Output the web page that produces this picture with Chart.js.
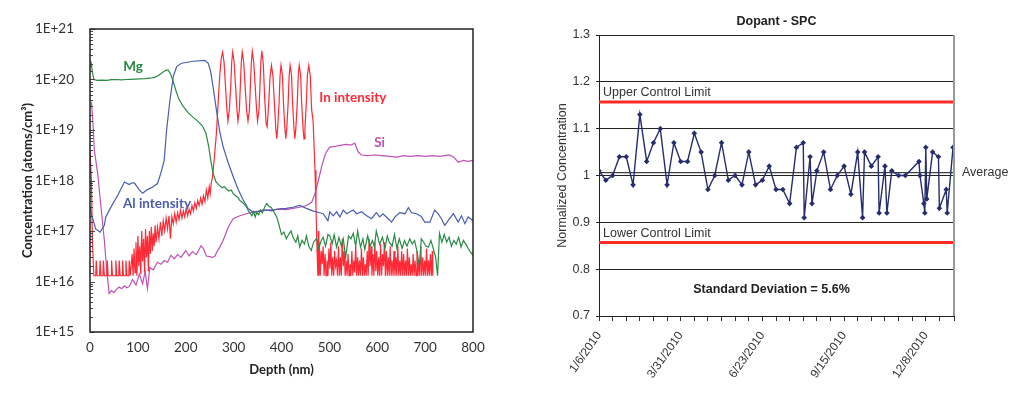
<!DOCTYPE html>
<html>
<head>
<meta charset="utf-8">
<script src="https://cdn.jsdelivr.net/npm/chart.js@4.4.1/dist/chart.umd.min.js"></script>
<style>
  html, body { margin: 0; padding: 0; background: #fff; }
  #wrap { position: relative; width: 1024px; height: 393px; overflow: hidden; }
  #profileCanvas { position: absolute; left: 0; top: 0; }
  #spcCanvas { position: absolute; left: 520px; top: 0; }
</style>
</head>
<body>
<div id="wrap">
  <canvas id="profileCanvas" width="520" height="393"></canvas>
  <canvas id="spcCanvas" width="504" height="393"></canvas>
</div>
<script>
// ---- SIMS depth profile: [depth nm, atoms/cm3] ----
var mgProfile = [
  [0,1.8e20],[2,2.3e20],[5,1.4e20],[8,1.0e20],[15,9.6e19],[25,9.7e19],[35,9.6e19],[45,9.9e19],[55,1.0e20],
  [65,9.8e19],[75,1.0e20],[85,1.01e20],[95,1.02e20],[105,1.03e20],[115,1.04e20],[125,1.06e20],[135,1.1e20],
  [143,1.2e20],[150,1.35e20],[157,1.5e20],[163,1.55e20],[168,1.3e20],[174,9e19],[180,5.8e19],[186,4.0e19],
  [195,2.9e19],[205,2.2e19],[215,1.8e19],[225,1.5e19],[235,1.2e19],[242,8.7e18],[248,4.7e18],[252,2.6e18],
  [257,1.4e18],[263,9.5e17],[270,8.0e17],[276,7.2e17],[280,7.6e17],[285,6.8e17],[290,6.2e17],[295,6.5e17],
  [299,5.5e17],[304,5.0e17],[309,4.6e17],[313,4.0e17],[318,3.7e17],[322,3.4e17],[327,3.0e17],[331,2.5e17],
  [335,2.2e17],[338,2.0e17],[342,2.4e17],[345,1.9e17],[348,2.3e17],[352,2.1e17],[356,2.6e17],[360,2.3e17],
  [365,3.0e17],[369,3.5e17],[374,3.1e17],[379,2.9e17],[384,2.4e17],[390,1.9e17],[395,1.3e17],[400,8.5e16],
  [405,9.5e16],[410,7.0e16],[415,8.5e16],[420,1.0e17],[424,7.5e16],[430,6.0e16],[434,8.0e16],[438,4.8e16],
  [443,6.5e16],[448,5.5e16],[452,8.0e16],[457,5.0e16],[462,4.1e16],[467,6.0e16],[473,7.1e16],[478,4.5e16],
  [483,6.5e16],[487,7.5e16],[492,5.0e16],[497,8.5e16],[501,8.0e16],[506,5.6e16],[510,8.5e16],[515,4.8e16],
  [520,7.5e16],[525,5.0e16],[529,7.0e16],[534,3.0e16],[540,8.0e16],[545,7.0e16],[550,9.0e16],[555,5.0e16],
  [559,1.0e17],[565,4.8e16],[570,7.0e16],[574,4.3e16],[580,8.0e16],[585,5.0e16],[590,6.5e16],[594,4.8e16],
  [598,1.0e17],[605,5.5e16],[611,7.5e16],[616,4.5e16],[621,8.0e16],[625,6.0e16],[631,5.0e16],[636,8.5e16],
  [641,4.5e16],[646,7.0e16],[652,4.5e16],[657,6.5e16],[662,5.0e16],[668,7.0e16],[673,5.5e16],[678,6.5e16],
  [683,4.0e16],[688,2.0e16],[692,7.0e16],[697,6.0e16],[702,5.0e16],[707,4.8e16],[712,6.5e16],[717,4.5e16],
  [722,3.0e16],[726,1.3e16],[730,9.0e16],[735,6.0e16],[740,8.5e16],[745,6.0e16],[750,7.5e16],[755,5.0e16],
  [760,6.5e16],[765,5.5e16],[770,7.5e16],[775,4.8e16],[780,6.5e16],[785,5.5e16],[790,4.5e16],[795,3.8e16],
  [800,3.3e16]
];

var alProfile = [
  [0,3.0e17],[4,2.0e17],[12,1.1e17],[21,9.5e16],[30,1.3e17],[33,1.9e17],[44,3.0e17],[58,5.1e17],[72,9.3e17],
  [82,8.3e17],[88,9.0e17],[93,8.9e17],[103,6.5e17],[110,5.6e17],[120,6.6e17],[131,7.4e17],[141,8.7e17],
  [148,1.4e18],[155,2.5e18],[160,1.0e19],[167,3.9e19],[174,1.15e20],[181,1.8e20],[191,2.1e20],[216,2.3e20],
  [240,2.4e20],[247,2.1e20],[252,1.45e20],[257,7.2e19],[264,2.5e19],[271,9.3e18],[278,4.7e18],[289,2.2e18],
  [299,1.2e18],[310,6.5e17],[320,4.1e17],[330,2.8e17],[341,2.35e17],[350,2.4e17],[360,2.6e17],[369,2.6e17],
  [380,2.5e17],[390,2.7e17],[397,2.75e17],[410,2.8e17],[424,2.95e17],[438,3.2e17],[452,2.8e17],[465,2.5e17],
  [480,2.3e17],[487,2.2e17],[497,1.6e17],[501,2.4e17],[508,2.0e17],[515,2.4e17],[522,1.9e17],[529,2.6e17],
  [536,2.2e17],[543,2.4e17],[550,2.6e17],[557,2.2e17],[567,2.4e17],[578,2.0e17],[588,1.75e17],[598,2.3e17],
  [605,1.9e17],[612,2.2e17],[623,1.75e17],[630,1.5e17],[637,1.9e17],[647,2.3e17],[658,2.2e17],[665,2.9e17],
  [672,2.3e17],[682,2.2e17],[692,1.95e17],[699,1.5e17],[710,1.5e17],[720,2.6e17],[727,2.2e17],[734,1.75e17],
  [741,1.3e17],[748,1.6e17],[759,2.2e17],[769,1.5e17],[776,2.0e17],[783,1.4e17],[790,1.9e17],[800,1.6e17]
];

var inProfile = [
  [0,4.0e18],[3,1.0e18],[5,6.5e16],[8,1.3e16],[12,1.3e16],[13,2.6e16],[15,1.3e16],[20,1.3e16],[21,2.6e16],
  [23,1.3e16],[27,1.3e16],[28,2.6e16],[30,1.3e16],[35,1.3e16],[36,2.6e16],[38,1.3e16],[44,1.3e16],[45,2.6e16],
  [47,1.3e16],[53,1.3e16],[54,2.6e16],[56,1.3e16],[60,1.3e16],[61,2.6e16],[63,1.3e16],[67,1.3e16],[68,2.6e16],
  [70,1.3e16],[74,1.3e16],[75,2.6e16],[77,1.3e16],[81,1.3e16],[82,2.6e16],[84,1.3e16],[88,3.5e16],[90,1.3e16],
  [92,4.5e16],[94,1.5e16],[96,6.0e16],[98,1.3e16],[100,8.0e16],[102,2.0e16],[104,5.0e16],[106,1.4e16],
  [108,1.0e17],[110,2.5e16],[112,7.0e16],[114,1.5e16],[116,1.1e17],[118,3.0e16],[120,8.0e16],[122,1.6e16],
  [124,1.0e17],[126,3.5e16],[128,1.2e17],[130,4.0e16],[132,9.0e16],[134,5.0e16],[136,1.3e17],[138,6.0e16],
  [141,1.2e17],[144,7.0e16],[147,1.5e17],[150,8.0e16],[153,1.6e17],[156,1.0e17],[159,1.8e17],[162,1.1e17],
  [165,2.0e17],[168,7.0e16],[171,1.9e17],[174,1.4e17],[177,2.2e17],[180,1.5e17],[183,2.3e17],[186,1.7e17],
  [189,2.6e17],[192,1.8e17],[195,2.5e17],[198,1.9e17],[201,2.8e17],[204,2.0e17],[207,2.7e17],[210,2.2e17],
  [213,3.2e17],[216,2.5e17],[219,3.6e17],[222,2.8e17],[225,4.0e17],[228,3.2e17],[231,4.5e17],[234,3.4e17],
  [237,5.0e17],[240,3.8e17],[243,6.5e17],[246,4.5e17],[249,7.5e17],[251,5.5e17],[253,8.5e17],[256,1.2e18],
  [260,3.0e18],[264,8.5e18],[268,4.0e19],[271,1.2e20],[274,2.6e20],[277,3.5e20],[280,2.2e20],[283,7.4e19],
  [286,2.5e19],[288,1.5e19],[291,2.5e19],[294,7.4e19],[296,2.2e20],[298,3.5e20],[301,2.2e20],[304,7.4e19],
  [307,2.5e19],[309,1.5e19],[312,2.5e19],[314,7.4e19],[316,2.2e20],[318,3.5e20],[321,2.2e20],[324,7.4e19],
  [327,2.5e19],[330,1.5e19],[333,2.5e19],[335,7.4e19],[337,2.2e20],[339,3.6e20],[342,2.2e20],[345,7.4e19],
  [348,2.5e19],[350,1.5e19],[353,2.5e19],[355,7.4e19],[357,2.3e20],[359,3.7e20],[362,2.0e20],[365,4.0e19],
  [368,1.3e19],[370,1.15e19],[373,3.0e19],[376,1.1e20],[379,1.9e20],[382,1.2e20],[385,3.6e19],[388,1.1e19],
  [390,6.7e18],[392,1.1e19],[395,3.6e19],[397,1.2e20],[399,1.9e20],[402,1.2e20],[404,3.6e19],[407,1.1e19],
  [409,6.7e18],[411,1.1e19],[414,3.6e19],[416,1.2e20],[418,1.9e20],[421,1.2e20],[423,3.6e19],[426,1.1e19],
  [428,6.7e18],[430,1.1e19],[433,3.6e19],[435,1.2e20],[437,1.9e20],[440,1.2e20],[442,3.6e19],[445,1.1e19],
  [447,6.7e18],[449,1.1e19],[452,3.6e19],[454,1.2e20],[457,1.9e20],[460,1.2e20],[463,2.5e19],[466,1.5e19],
  [470,1.6e18],[472,3.0e17],[474,5.0e16],[476,1.3e16],[477,1.0e17],[478,1.3e16],[479,6e16],[481,1.3e16],
  [483,4e16],[485,2.2e16],[487,5e16],[489,1.3e16],[491,3.5e16],[493,1.3e16],[495,2.6e16],[497,1.3e16],
  [499,4.5e16],[501,1.8e16],[503,6e16],[505,1.3e16],[507,3e16],[509,1.3e16],[511,4e16],[513,2e16],[515,2.6e16],
  [517,1.3e16],[519,5e16],[521,1.3e16],[523,3e16],[525,1.3e16],[527,7e16],[529,2e16],[531,4e16],[533,1.3e16],
  [535,2.6e16],[537,1.3e16],[539,3.5e16],[541,1.3e16],[543,2.2e16],[545,1.3e16],[547,4e16],[549,1.3e16],
  [551,2.6e16],[553,1.5e16],[555,5e16],[557,1.3e16],[559,3e16],[561,1.3e16],[563,2.6e16],[565,1.3e16],
  [567,4.5e16],[569,1.3e16],[571,3e16],[573,1.3e16],[575,2.2e16],[577,1.3e16],[579,4e16],[581,1.3e16],
  [583,7e16],[585,2e16],[587,5e16],[589,1.3e16],[591,3.5e16],[593,1.3e16],[595,6e16],[597,1.6e16],[599,4e16],
  [601,1.3e16],[603,3e16],[605,1.3e16],[607,5.5e16],[609,1.3e16],[611,3.5e16],[613,2e16],[615,6e16],
  [617,1.3e16],[619,4e16],[621,1.3e16],[623,3e16],[625,1.3e16],[627,5e16],[629,1.3e16],[631,2.6e16],
  [633,1.3e16],[635,4e16],[637,1.3e16],[639,3e16],[641,1.3e16],[643,5e16],[645,1.3e16],[647,2.6e16],
  [649,1.3e16],[651,4e16],[653,1.3e16],[655,3.5e16],[657,1.3e16],[659,2.6e16],[661,1.3e16],[663,4.5e16],
  [665,1.3e16],[667,3e16],[669,1.3e16],[671,2.2e16],[673,1.3e16],[675,3.5e16],[677,1.3e16],[679,2.6e16],
  [681,1.3e16],[683,4e16],[685,1.3e16],[687,2.6e16],[689,1.3e16],[691,5e16],[693,1.3e16],[695,3e16],
  [697,1.3e16],[699,2.6e16],[701,1.3e16],[703,4.5e16],[705,1.3e16],[707,2.6e16],[709,1.3e16],[711,3.5e16],
  [713,1.3e16],[715,4e16],[716,1.3e16]
];

var siProfile = [
  [3,3.6e19],[5,2.0e19],[7,1.0e19],[9,4.0e18],[16,1.4e18],[23,2.95e17],[30,6.5e16],[35,1.66e16],[40,5.8e15],
  [45,6.6e15],[50,6.0e15],[55,7.0e15],[61,7.8e15],[66,7.2e15],[72,8.2e15],[77,7.5e15],[82,8.0e15],[89,1.1e16],
  [96,8.5e15],[103,1.4e16],[110,9.0e15],[115,1.6e16],[120,7.2e15],[125,1.9e16],[132,1.7e16],[141,2.4e16],
  [148,2.2e16],[155,2.6e16],[162,2.4e16],[169,3.3e16],[176,2.8e16],[183,3.4e16],[190,3.0e16],[200,4.1e16],
  [207,3.2e16],[214,3.9e16],[222,3.4e16],[232,5.1e16],[237,4.5e16],[243,3.2e16],[250,3.1e16],[256,3.0e16],
  [261,3.2e16],[266,4.0e16],[271,4.8e16],[278,6.5e16],[289,1.2e17],[299,1.75e17],[313,2.0e17],[327,2.2e17],
  [341,2.4e17],[355,2.5e17],[369,2.6e17],[383,2.65e17],[397,2.7e17],[410,2.65e17],[424,2.8e17],[438,2.95e17],
  [452,3.2e17],[463,3.7e17],[470,5.5e17],[477,1.0e18],[484,1.9e18],[491,3.2e18],[494,3.7e18],[501,4.6e18],
  [515,4.8e18],[525,5.0e18],[536,5.2e18],[545,5.0e18],[553,5.5e18],[560,3.7e18],[567,3.2e18],[580,3.1e18],
  [595,3.2e18],[610,3.1e18],[625,3.0e18],[642,2.9e18],[655,3.1e18],[670,3.0e18],[685,3.1e18],[700,3.0e18],
  [715,3.1e18],[730,3.0e18],[751,3.2e18],[760,2.9e18],[769,2.3e18],[780,2.5e18],[790,2.4e18],[800,2.5e18]
];

var profileNames = ['Mg', 'Al intensity', 'In intensity', 'Si'];

// ---- SPC: days after 1/6/2010, normalized concentration ----
var spcDays = [0,7,14,21,28,35,42,49,56,63,70,77,84,91,98,105,112,119,126,133,140,147,154,161,168,175,182,189,
  196,203,210,211,217,219,224,231,238,245,252,259,266,271,273,280,287,288,294,296,301,308,315,329,330,334,335,
  336,337,343,349,350,357,358,364];
var spcValues = [1.01,0.99,1.00,1.04,1.04,0.98,1.13,1.03,1.07,1.10,0.98,1.07,1.03,1.03,1.09,1.05,0.97,1.00,1.07,
  0.99,1.00,0.98,1.05,0.98,0.99,1.02,0.97,0.97,0.94,1.06,1.07,0.91,1.04,0.94,1.01,1.05,0.97,1.00,1.02,0.96,1.05,
  0.91,1.05,1.02,1.04,0.92,1.02,0.92,1.01,1.00,1.00,1.03,1.00,0.94,0.92,1.06,0.95,1.05,1.04,0.93,0.97,0.92,1.06];
var spcTickDates = ['1/6/2010', '3/31/2010', '6/23/2010', '9/15/2010', '12/8/2010'];
var upperLimit = 1.157;
var lowerLimit = 0.857;
var averageValue = 1.006;
var spcDayMax = 365;

function toPoints(rows) {
  return rows.map(function (r) { return { x: r[0], y: r[1] }; });
}

var profileColors = ['#2a8a45', '#4a5db0', '#ff2a36', '#c052b4'];
var lato = 'Lato, "Open Sans", sans-serif';

// labels drawn next to the curves (data coordinates)
var profileLabelSpots = [
  { x: 90, y: 1.8e20 },
  { x: 140, y: 3.5e17 },
  { x: 549, y: 4.3e19 },
  { x: 605, y: 5.5e18 }
];

var profileDecor = {
  id: 'profileDecor',
  afterDraw: function (chart) {
    var ctx = chart.ctx, a = chart.chartArea;
    var xs = chart.scales.x, ys = chart.scales.y;
    ctx.save();
    // inner tick marks on the log axis
    ctx.strokeStyle = '#444';
    ctx.lineWidth = 1;
    ys.ticks.forEach(function (t) {
      var e = Math.log10(t.value);
      var major = Math.abs(e - Math.round(e)) < 1e-9;
      var y = Math.round(ys.getPixelForValue(t.value)) + 0.5;
      ctx.beginPath();
      ctx.moveTo(a.left, y);
      ctx.lineTo(a.left + (major ? 5 : 3), y);
      ctx.stroke();
    });
    // frame
    ctx.strokeStyle = '#222';
    ctx.lineWidth = 1.5;
    ctx.strokeRect(a.left, a.top, a.right - a.left, a.bottom - a.top);
    // series labels
    ctx.font = 'bold 13.5px ' + lato;
    ctx.textAlign = 'center';
    ctx.textBaseline = 'middle';
    profileNames.forEach(function (name, i) {
      var s = profileLabelSpots[i];
      ctx.fillStyle = profileColors[i];
      ctx.fillText(name, xs.getPixelForValue(s.x), ys.getPixelForValue(s.y));
    });
    ctx.restore();
  }
};

new Chart(document.getElementById('profileCanvas').getContext('2d'), {
  type: 'line',
  data: {
    datasets: [mgProfile, alProfile, inProfile, siProfile].map(function (rows, i) {
      return {
        label: profileNames[i],
        data: toPoints(rows),
        borderColor: profileColors[i],
        borderWidth: 1.2,
        pointRadius: 0,
        tension: 0
      };
    })
  },
  options: {
    responsive: false,
    animation: false,
    layout: { padding: { left: 0, right: 47, top: 29, bottom: 0 } },
    plugins: { legend: { display: false }, tooltip: { enabled: false } },
    scales: {
      x: {
        type: 'linear', min: 0, max: 800,
        grid: { display: false, drawTicks: false },
        border: { display: false },
        ticks: { stepSize: 100, maxRotation: 0, padding: 8, color: '#333', font: { family: lato, size: 13.5 } },
        title: { display: true, text: 'Depth (nm)', color: '#222', padding: { top: 0, bottom: 15 },
          font: { family: lato, size: 13, weight: 'bold' } },
        afterFit: function (s) { s.height = 61; }
      },
      y: {
        type: 'logarithmic', min: 1e15, max: 1e21,
        grid: { display: false, drawTicks: false },
        border: { display: false },
        ticks: {
          autoSkip: false, padding: 16, color: '#333', font: { family: lato, size: 13.5 },
          callback: function (v) {
            var e = Math.log10(v);
            return Math.abs(e - Math.round(e)) < 1e-9 ? '1E+' + Math.round(e) : '';
          }
        },
        title: { display: true, text: 'Concentration (atoms/cm³)', color: '#222', padding: { top: 20, bottom: 0 },
          font: { family: lato, size: 13, weight: 'bold' } },
        afterFit: function (s) { s.width = 90; }
      }
    }
  },
  plugins: [profileDecor]
});

// ---- SPC chart ----
var arial = '"Liberation Sans", Arial, sans-serif';

var spcDecor = {
  id: 'spcDecor',
  afterDraw: function (chart) {
    var ctx = chart.ctx, a = chart.chartArea, ys = chart.scales.y;
    ctx.save();
    ctx.strokeStyle = '#999';
    ctx.lineWidth = 2;
    ctx.beginPath();
    ctx.moveTo(a.right, a.top);
    ctx.lineTo(a.right, a.bottom);
    ctx.stroke();

    ctx.fillStyle = '#222';
    ctx.textBaseline = 'middle';
    ctx.font = 'bold 12.5px ' + arial;
    ctx.textAlign = 'center';
    ctx.fillText('Dopant - SPC', (a.left + a.right) / 2, 22);
    ctx.fillText('Standard Deviation = 5.6%', (a.left + a.right) / 2 - 5, ys.getPixelForValue(0.756));

    ctx.fillStyle = '#333';
    ctx.font = '12.5px ' + arial;
    ctx.textAlign = 'left';
    ctx.fillText('Upper Control Limit', a.left + 4, ys.getPixelForValue(upperLimit) - 9);
    ctx.fillText('Lower Control Limit', a.left + 4, ys.getPixelForValue(lowerLimit) - 9);
    ctx.fillText('Average', a.right + 8, ys.getPixelForValue(averageValue));
    ctx.restore();
  }
};

function flatLine(v) {
  return [{ x: 0, y: v }, { x: spcDayMax, y: v }];
}

new Chart(document.getElementById('spcCanvas').getContext('2d'), {
  type: 'line',
  data: {
    datasets: [
      {
        label: 'Dopant',
        data: spcDays.map(function (d, i) { return { x: d, y: spcValues[i] }; }),
        borderColor: '#262c6e', borderWidth: 1.4,
        pointStyle: 'rectRot', pointRadius: 2.8, pointBorderWidth: 0,
        pointBackgroundColor: '#262c6e', tension: 0
      },
      { label: 'UCL', data: flatLine(upperLimit), borderColor: '#ff2a2a', borderWidth: 3, pointRadius: 0 },
      { label: 'LCL', data: flatLine(lowerLimit), borderColor: '#ff2a2a', borderWidth: 3, pointRadius: 0 },
      { label: 'Average', data: flatLine(averageValue), borderColor: '#111', borderWidth: 1, pointRadius: 0 }
    ]
  },
  options: {
    responsive: false,
    animation: false,
    layout: { padding: { left: 0, right: 70, top: 35, bottom: 0 } },
    plugins: { legend: { display: false }, tooltip: { enabled: false } },
    scales: {
      x: {
        type: 'linear', min: 0, max: spcDayMax,
        grid: { display: true, drawOnChartArea: false, drawTicks: true, tickLength: 5, color: '#333' },
        border: { display: true, color: '#222', width: 1 },
        ticks: {
          stepSize: 14, autoSkip: false, minRotation: 55, maxRotation: 55, padding: 8,
          color: '#333', font: { family: arial, size: 12 },
          callback: function (v) { return v % 84 === 0 ? spcTickDates[v / 84] : ''; }
        },
        afterFit: function (s) { s.height = 77; }
      },
      y: {
        min: 0.7, max: 1.3,
        grid: { color: '#222', lineWidth: 1, tickLength: 3, drawTicks: true },
        border: { display: true, color: '#222', width: 1 },
        ticks: {
          stepSize: 0.1, padding: 6, color: '#333', font: { family: arial, size: 12.5 },
          callback: function (v) { return String(Math.round(v * 10) / 10); }
        },
        title: { display: true, text: 'Normalized Concentration', color: '#333', padding: { top: 35, bottom: 0 },
          font: { family: arial, size: 12.5 } },
        afterFit: function (s) { s.width = 79; }
      }
    }
  },
  plugins: [spcDecor]
});
</script>
</body>
</html>
